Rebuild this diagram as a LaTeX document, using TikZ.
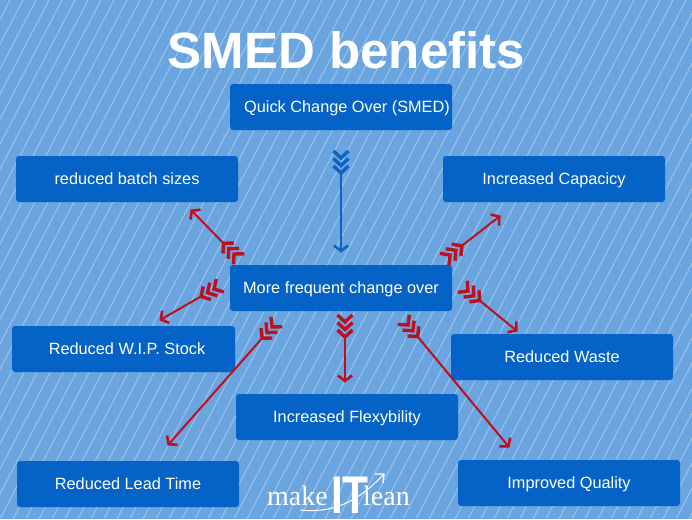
\documentclass[tikz,border=0pt]{standalone}
\usepackage{fontspec}
\setmainfont{Liberation Sans}
\newfontfamily\serifx{Liberation Serif}
\usetikzlibrary{decorations.markings}
\definecolor{bgblue}{HTML}{6AA5E0}
\definecolor{boxblue}{HTML}{0563C8}
\definecolor{arrred}{HTML}{BE0F1E}
\definecolor{arrblue}{HTML}{0F63C0}
\tikzset{
  x=1pt,y=-1pt,
  box/.style={fill=boxblue,rounded corners=3pt,minimum width=222pt,minimum height=46pt,inner sep=0pt,text=white,font=\fontsize{16.3}{18}\selectfont,anchor=center,text height=13pt,text depth=3pt},
  stripe/.style={draw=white,opacity=.36,line width=.9pt},
  shaft/.style={line width=2pt},
  chev/.style={line width=3.4pt,miter limit=10},
  barb/.style={line width=2.6pt,miter limit=10},
  logotext/.style={text=white,font=\serifx\fontsize{28}{28}\selectfont,inner sep=0pt},
}
\newcommand\fletchedarrow[3]{%
  \draw[shaft,draw=#3,shorten <=15pt,shorten >=1pt] (#1) -- (#2);
  \path[postaction={decorate},decoration={markings,
    mark=at position 0pt with {\draw[chev,#3] (-7,-7.5) -- (0,0) -- (-7,7.5);},
    mark=at position 7.5pt with {\draw[chev,#3] (-7,-7.5) -- (0,0) -- (-7,7.5);},
    mark=at position 15pt with {\draw[chev,#3] (-7,-7.5) -- (0,0) -- (-7,7.5);},
    mark=at position 1 with {\draw[barb,#3] (-6.5,-7) -- (-1,0) -- (-6.5,7);}}] (#1) -- (#2);
}
\begin{document}
\begin{tikzpicture}
\useasboundingbox (0,0) rectangle (692,519);
\fill[bgblue] (0,0) rectangle (692,519);
\begin{scope}
\clip (0,0) rectangle (692,519);
\foreach \i in {-260,-247,...,700}{
  \draw[stripe] (\i,519) -- (\i+270,0);
}
\end{scope}
\node[font=\bfseries\fontsize{51}{60}\selectfont,text=white,inner sep=0pt] (title) at (346.5,50) {SMED benefits};

\node[box] (quick) at (341,107) {\hspace*{12pt}Quick Change Over (SMED)};
\node[box] (batch) at (127,179) {reduced batch sizes};
\node[box] (capacity) at (554,179) {Increased Capacicy};
\node[box] (center) at (341,288) {More frequent change over};
\node[box,minimum width=223pt] (wip) at (123.5,349) {\hspace*{7pt}Reduced W.I.P. Stock};
\node[box] (waste) at (562,357) {Reduced Waste};
\node[box] (flex) at (347,417) {Increased Flexybility};
\node[box] (lead) at (128,484) {Reduced Lead Time};
\node[box] (quality) at (569,483) {Improved Quality};

\coordinate (bs) at (341,158); \coordinate (bt) at (341,252);
\coordinate (s1) at (234,254); \coordinate (t1) at (191,210);
\coordinate (s2) at (214,289); \coordinate (t2) at (160,320);
\coordinate (s3) at (272,327); \coordinate (t3) at (168,445);
\coordinate (s4) at (345,322); \coordinate (t4) at (345,382);
\coordinate (s5) at (408,325); \coordinate (t5) at (509,447);
\coordinate (s6) at (468,291); \coordinate (t6) at (517,331);
\coordinate (s7) at (450,255); \coordinate (t7) at (500,216);

\fletchedarrow{bs}{bt}{arrblue}
\fletchedarrow{s1}{t1}{arrred}
\fletchedarrow{s2}{t2}{arrred}
\fletchedarrow{s3}{t3}{arrred}
\fletchedarrow{s4}{t4}{arrred}
\fletchedarrow{s5}{t5}{arrred}
\fletchedarrow{s6}{t6}{arrred}
\fletchedarrow{s7}{t7}{arrred}

% logo
\node[logotext,anchor=base west] (mk) at (267,505) {make};
\node[logotext,anchor=base east] (ln) at (410,505) {lean};
\node[text=white,font=\bfseries\fontsize{53}{53}\selectfont,inner sep=0pt,anchor=base,transform shape,xscale=.8] (it) at (350,513.5) {IT};
\coordinate (sw0) at (300,510); \coordinate (sw1) at (384,474);
\draw[white,line width=1pt] (sw0) .. controls (330,513) and (355,505) .. (sw1);
\draw[white,line width=1.3pt] ([shift={(-9,0)}]sw1) -- (sw1) -- ([shift={(-1,9)}]sw1);
\end{tikzpicture}
\end{document}
